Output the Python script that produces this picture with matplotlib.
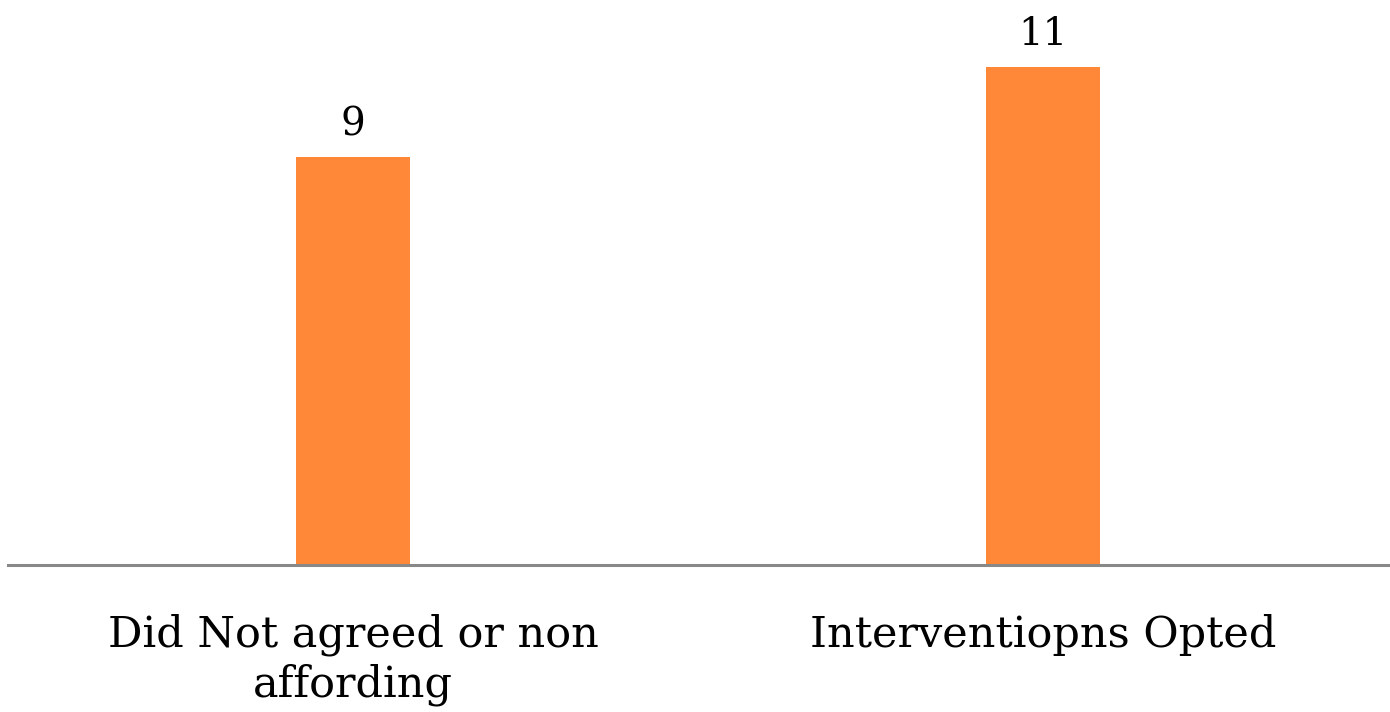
import matplotlib.pyplot as plt

categories = ["Did Not agreed or non\naffording", "Interventiopns Opted"]
values = [9, 11]

plt.rcParams['font.family'] = ['DejaVu Serif']

fig = plt.figure(figsize=(13.9, 7.12), dpi=100)
ax = fig.add_axes([8 / 1390, 147 / 712, 1380 / 1390, 565 / 712])

x = range(len(categories))
bars = ax.bar(x, values, width=0.164, color='#FF8838')
ax.set_xlim(-0.5, 1.5)
ax.set_ylim(0, 12.47)

for b, v in zip(bars, values):
    ax.text(b.get_x() + b.get_width() / 2, v + 0.47, str(v),
            ha='center', va='baseline', fontsize=28)

ax.set_xticks(list(x))
ax.set_xticklabels(categories, fontsize=31, linespacing=1.22)
ax.tick_params(axis='x', length=0, pad=35)
ax.set_yticks([])

for s in ['top', 'right', 'left']:
    ax.spines[s].set_visible(False)
ax.spines['bottom'].set_color('#888888')
ax.spines['bottom'].set_linewidth(2.2)

fig.savefig('out.png', dpi=100)
